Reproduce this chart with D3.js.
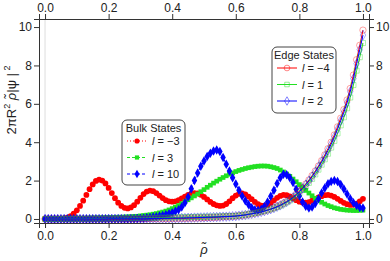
<!DOCTYPE html>
<html lang="en">
<head>
<meta charset="utf-8">
<title>Bulk and edge states</title>
<script src="https://d3js.org/d3.v7.min.js"></script>
<style>
  body { margin: 0; background: #fff; }
  svg { font-family: "Liberation Sans", Arial, sans-serif; }
  .tick text { font-size: 12px; fill: #222; }
</style>
</head>
<body>
<div id="chart"></div>
<script>
// sampling grid of rho (0 .. 1 in steps of 0.01)
var rho = d3.range(101).map(i => i / 100);

// bulk states
var bulkM3 = [0,0,0,0,0,0.01,0.03,0.07,0.15,0.28,
  0.45,0.68,0.95,1.25,1.55,1.8,1.98,2.05,2.0,1.85,
  1.62,1.35,1.08,0.85,0.68,0.58,0.55,0.6,0.72,0.9,
  1.1,1.3,1.43,1.48,1.45,1.35,1.22,1.09,0.98,0.92,
  0.9,0.92,0.98,1.07,1.17,1.26,1.32,1.35,1.33,1.26,
  1.15,1.02,0.89,0.78,0.71,0.68,0.7,0.78,0.92,1.08,
  1.22,1.31,1.33,1.28,1.17,1.03,0.89,0.77,0.7,0.69,
  0.74,0.84,0.97,1.1,1.2,1.25,1.24,1.18,1.08,0.98,
  0.9,0.86,0.85,0.88,0.95,1.04,1.12,1.19,1.24,1.25,
  1.22,1.15,1.05,0.94,0.84,0.77,0.73,0.74,0.8,0.92,
  1.05];
var bulkP3 = [0,0,0,0,0,0,0,0,0.01,0.01,
  0.02,0.02,0.03,0.03,0.04,0.04,0.05,0.05,0.06,0.06,
  0.07,0.07,0.08,0.09,0.09,0.1,0.11,0.12,0.13,0.14,
  0.16,0.18,0.2,0.22,0.25,0.28,0.32,0.36,0.41,0.47,
  0.54,0.62,0.7,0.8,0.9,1.0,1.1,1.2,1.3,1.42,
  1.53,1.65,1.76,1.87,1.97,2.07,2.16,2.25,2.33,2.4,
  2.47,2.53,2.58,2.63,2.67,2.7,2.73,2.75,2.76,2.76,
  2.75,2.72,2.68,2.63,2.55,2.45,2.34,2.22,2.08,1.94,
  1.79,1.64,1.49,1.35,1.21,1.08,0.97,0.87,0.78,0.7,
  0.64,0.58,0.54,0.5,0.48,0.46,0.45,0.44,0.44,0.45,
  0.46];
var bulkP10 = [0,0,0,0,0,0,0,0,0,0,
  0,0,0,0,0,0,0,0,0,0,
  0,0,0,0,0,0,0,0.01,0.01,0.02,
  0.03,0.04,0.06,0.08,0.1,0.12,0.15,0.18,0.22,0.27,
  0.33,0.4,0.48,0.62,0.85,1.15,1.58,2.0,2.4,2.75,
  3.02,3.25,3.42,3.54,3.6,3.52,3.2,2.85,2.5,2.15,
  1.82,1.5,1.2,0.95,0.75,0.58,0.48,0.45,0.5,0.65,
  0.88,1.18,1.5,1.85,2.15,2.33,2.3,2.15,1.9,1.55,
  1.2,0.88,0.66,0.57,0.62,0.8,1.05,1.35,1.62,1.83,
  1.95,2.0,1.95,1.8,1.56,1.3,1.05,0.85,0.7,0.6,
  0.57];

// edge states
var edgeM4 = [0,0,0,0,0,0,0,0,0,0,
  0,0,0,0,0,0,0,0,0,0,
  0,0,0,0,0,0,0,0,0,0,
  0.01,0.01,0.01,0.01,0.01,0.01,0.01,0.01,0.01,0.01,
  0.02,0.02,0.03,0.03,0.03,0.04,0.04,0.04,0.05,0.05,
  0.06,0.065,0.07,0.08,0.09,0.1,0.11,0.12,0.13,0.14,
  0.15,0.17,0.19,0.21,0.24,0.27,0.3,0.34,0.38,0.42,
  0.47,0.52,0.58,0.65,0.73,0.82,0.91,1.02,1.14,1.29,
  1.45,1.63,1.82,2.03,2.26,2.5,2.76,3.04,3.34,3.66,
  4.0,4.38,4.8,5.25,5.7,6.2,6.8,7.5,8.3,9.05,
  9.84];
var edgeP1 = [0,0,0,0,0,0.01,0.01,0.01,0.01,0.01,
  0.01,0.01,0.01,0.01,0.02,0.02,0.02,0.02,0.02,0.02,
  0.03,0.03,0.03,0.03,0.03,0.04,0.04,0.04,0.04,0.05,
  0.05,0.05,0.05,0.06,0.06,0.06,0.07,0.07,0.07,0.08,
  0.08,0.08,0.09,0.09,0.09,0.1,0.1,0.1,0.11,0.11,
  0.11,0.12,0.12,0.12,0.13,0.13,0.14,0.14,0.15,0.15,
  0.16,0.18,0.2,0.22,0.25,0.28,0.31,0.34,0.38,0.42,
  0.46,0.51,0.56,0.62,0.69,0.77,0.86,0.96,1.07,1.2,
  1.35,1.51,1.69,1.88,2.09,2.32,2.57,2.83,3.11,3.4,
  3.72,4.07,4.46,4.88,5.3,5.77,6.33,6.98,7.73,8.43,
  9.17];
var edgeP2 = [0,0,0,0,0,0,0,0,0,0,
  0,0,0,0,0,0,0,0,0,0,
  0.01,0.01,0.01,0.01,0.01,0.01,0.01,0.01,0.01,0.01,
  0.01,0.01,0.01,0.02,0.02,0.02,0.02,0.03,0.03,0.03,
  0.04,0.04,0.04,0.05,0.05,0.06,0.06,0.07,0.07,0.08,
  0.08,0.09,0.09,0.1,0.1,0.11,0.12,0.12,0.13,0.14,
  0.15,0.17,0.19,0.21,0.24,0.27,0.3,0.33,0.37,0.41,
  0.46,0.51,0.57,0.64,0.71,0.8,0.89,1.0,1.12,1.26,
  1.42,1.59,1.78,1.98,2.2,2.44,2.7,2.97,3.26,3.57,
  3.9,4.27,4.68,5.12,5.56,6.05,6.63,7.31,8.09,8.82,
  9.58];

var xTicks = [0, 0.2, 0.4, 0.6, 0.8, 1.0];
var yTicks = [0, 2, 4, 6, 8, 10];
var bulkLabels = ["\u22123", "3", "10"];
var edgeLabels = ["\u22124", "1", "2"];

var W = 390, H = 261;
var margin = { top: 19, right: 21, bottom: 38, left: 39 };
var width = W - margin.left - margin.right,
    height = H - margin.top - margin.bottom;

var svg = d3.select("#chart").append("svg")
  .attr("width", W).attr("height", H);

var g = svg.append("g")
  .attr("transform", "translate(" + margin.left + "," + margin.top + ")");

var x = d3.scaleLinear().domain([-0.019, 1.019]).range([0, width]);
var y = d3.scaleLinear().domain([-0.21, 10.42]).range([height, 0]);

g.append("clipPath").attr("id", "clip")
  .append("rect").attr("width", width).attr("height", height);

// zero lines
g.append("line").attr("x1", x(0)).attr("x2", x(0)).attr("y1", 0).attr("y2", height)
  .attr("stroke", "#ddd").attr("stroke-width", 1);
g.append("line").attr("x1", 0).attr("x2", width).attr("y1", y(0)).attr("y2", y(0))
  .attr("stroke", "#ddd").attr("stroke-width", 1);

// axes on all four sides
function styleAxis(sel) {
  sel.select(".domain").attr("stroke", "#333");
  sel.selectAll(".tick line").attr("stroke", "#333");
}
g.append("g").attr("transform", "translate(0," + height + ")")
  .call(d3.axisBottom(x).tickValues(xTicks).tickFormat(d3.format(".1f")).tickSizeOuter(0).tickSize(5).tickPadding(3))
  .call(styleAxis);
g.append("g")
  .call(d3.axisTop(x).tickValues(xTicks).tickFormat(d3.format(".1f")).tickSizeOuter(0).tickSize(5).tickPadding(2))
  .call(styleAxis);
g.append("g")
  .call(d3.axisLeft(y).tickValues(yTicks).tickSizeOuter(0).tickSize(5).tickPadding(2))
  .call(styleAxis);
g.append("g").attr("transform", "translate(" + width + ",0)")
  .call(d3.axisRight(y).tickValues(yTicks).tickSizeOuter(0).tickSize(5).tickPadding(2))
  .call(styleAxis);

var series = [
  { vals: bulkM3, color: "#ff0000", sym: d3.symbolCircle, size: 26, open: false, dash: "1,2" },
  { vals: bulkP3, color: "#22e022", sym: d3.symbolSquare, size: 22, open: false, dash: "3,2" },
  { vals: bulkP10, color: "#0000ff", sym: d3.symbolDiamond, size: 26, open: false, dash: "3,2" },
  { vals: edgeM4, color: "#ff0000", sym: d3.symbolCircle, size: 32, open: true, dash: null },
  { vals: edgeP1, color: "#22e022", sym: d3.symbolSquare, size: 26, open: true, dash: null },
  { vals: edgeP2, color: "#0000ff", sym: d3.symbolDiamond, size: 26, open: true, dash: null }
];

var line = d3.line().x((d, i) => x(rho[i])).y(d => y(d));
var plot = g.append("g").attr("clip-path", "url(#clip)");

series.forEach(s => {
  plot.append("path").datum(s.vals)
    .attr("d", line)
    .attr("fill", "none")
    .attr("stroke", s.color)
    .attr("stroke-width", 1)
    .attr("stroke-dasharray", s.dash);
  plot.append("g").selectAll("path").data(s.vals).enter()
    .append("path")
    .attr("transform", (d, i) => "translate(" + x(rho[i]) + "," + y(d) + ")")
    .attr("d", d3.symbol().type(s.sym).size(s.size))
    .attr("fill", s.open ? "none" : s.color)
    .attr("stroke", s.open ? s.color : "none")
    .attr("stroke-opacity", 0.45)
    .attr("stroke-width", 0.8);
});

// legends
function legend(x0, y0, w, h, title, items, labels) {
  var lg = svg.append("g").attr("transform", "translate(" + x0 + "," + y0 + ")");
  lg.append("rect").attr("width", w).attr("height", h).attr("rx", 5)
    .attr("fill", "#fff").attr("stroke", "#444").attr("stroke-width", 1);
  lg.append("text").attr("x", w / 2).attr("y", 12).attr("text-anchor", "middle")
    .attr("font-size", 11).attr("fill", "#222").text(title);
  items.forEach((s, i) => {
    var yy = 21 + i * 16.5;
    lg.append("line").attr("x1", 5).attr("x2", 25).attr("y1", yy).attr("y2", yy)
      .attr("stroke", s.color).attr("stroke-width", 1).attr("stroke-dasharray", s.dash);
    lg.append("path").attr("transform", "translate(15," + yy + ")")
      .attr("d", d3.symbol().type(s.sym).size(s.size * 0.8))
      .attr("fill", s.open ? "none" : s.color)
      .attr("stroke", s.open ? s.color : "none")
      .attr("stroke-opacity", 0.6).attr("stroke-width", 0.8);
    var t = lg.append("text").attr("x", 30).attr("y", yy + 4)
      .attr("font-size", 11).attr("fill", "#222");
    t.append("tspan").attr("font-style", "italic").text("l");
    t.append("tspan").text(" = " + labels[i]);
  });
}
legend(122, 120, 63, 65, "Bulk States", series.slice(0, 3), bulkLabels);
legend(272, 47, 64, 66, "Edge States", series.slice(3), edgeLabels);

// axis titles
svg.append("text").attr("x", margin.left + x(0.5)).attr("y", 254)
  .attr("text-anchor", "middle").attr("font-size", 13).attr("font-style", "italic")
  .attr("fill", "#222").text("\u03C1\u0303");

var yl = svg.append("text").attr("transform", "translate(16,100) rotate(-90)")
  .attr("text-anchor", "middle").attr("font-size", 13).attr("fill", "#222");
yl.append("tspan").text("2\u03C0R");
yl.append("tspan").attr("font-size", 9).attr("dy", -6).text("2");
yl.append("tspan").attr("dy", 6).attr("font-style", "italic").text(" \u03C1\u0303");
yl.append("tspan").text("|\u03C8 |");
yl.append("tspan").attr("font-size", 9).attr("dy", -6).text(" 2");
</script>
</body>
</html>
